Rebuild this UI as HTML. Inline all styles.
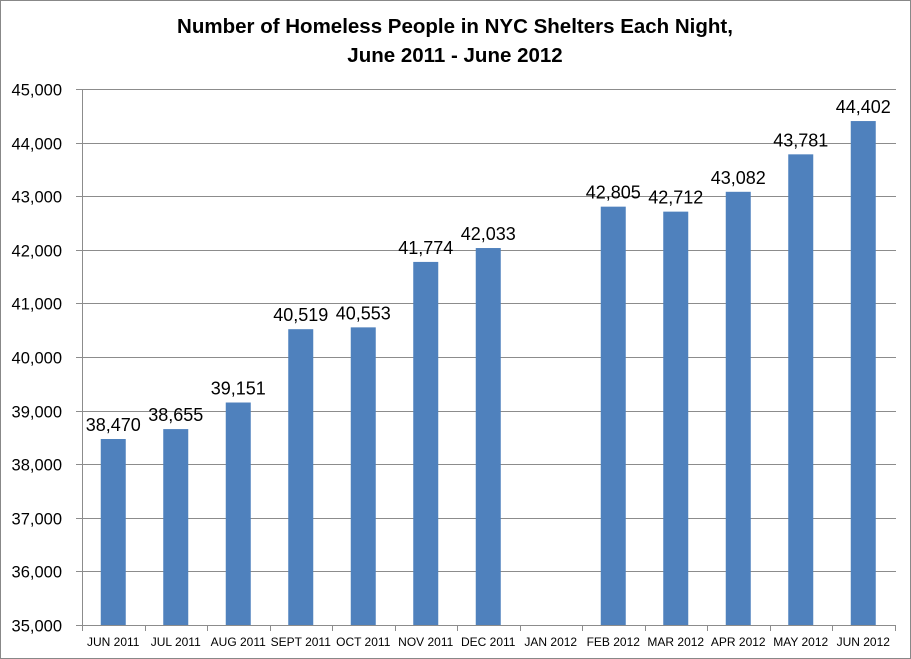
<!DOCTYPE html>
<html><head><style>
body{margin:0;background:#fff}
svg{display:block;font-family:"Liberation Sans",Calibri,sans-serif}
</style></head><body>
<svg width="911" height="659" viewBox="0 0 911 659" xmlns="http://www.w3.org/2000/svg">
<rect x="0.5" y="0.5" width="910" height="658" fill="#fff" stroke="#888"/>
<text x="455" y="33" text-anchor="middle" font-size="20.5" font-weight="bold">Number of Homeless People in NYC Shelters Each Night,</text>
<text x="455" y="62" text-anchor="middle" font-size="20.5" font-weight="bold">June 2011 - June 2012</text>
<g id="grid" stroke="#8c8c8c" stroke-width="1"></g>
<g id="bars"></g>
<g id="txt"></g>
</svg>
<script>
const ns="http://www.w3.org/2000/svg";
const g=document.getElementById('grid'),b=document.getElementById('bars'),t=document.getElementById('txt');
function el(p,n,a,s){const e=document.createElementNS(ns,n);for(const k in a)e.setAttribute(k,a[k]);if(s!==undefined)e.textContent=s;p.appendChild(e);return e;}
const x0=82,cw=62.5,y0=625,ppu=53.6/1000;
const Y=v=>y0-(v-35000)*ppu;
for(let i=0;i<=10;i++){const y=Math.round(Y(35000+i*1000))+0.5;
 el(g,'line',{x1:76,x2:896,y1:y,y2:y});
 el(t,'text',{x:62,y:y+6,'text-anchor':'end','font-size':16.5,fill:'#000'},(35+i)+',000');}
el(g,'line',{x1:x0+0.5,x2:x0+0.5,y1:89,y2:631});
for(let i=0;i<=13;i++){const x=Math.round(x0+i*cw)+0.5;el(g,'line',{x1:x,x2:x,y1:625,y2:631});}
const labs=['JUN 2011','JUL 2011','AUG 2011','SEPT 2011','OCT 2011','NOV 2011','DEC 2011','JAN 2012','FEB 2012','MAR 2012','APR 2012','MAY 2012','JUN 2012'];
const vals=[38470,38655,39151,40519,40553,41774,42033,null,42805,42712,43082,43781,44402];
labs.forEach((l,i)=>{const c=x0+i*cw+cw/2;
 el(t,'text',{x:c,y:646,'text-anchor':'middle','font-size':12},l);
 const v=vals[i];if(v==null)return;
 el(b,'rect',{x:c-12.5,y:Y(v),width:25,height:y0-Y(v),fill:'#4f81bd'});
 el(t,'text',{x:c,y:Y(v)-8,'text-anchor':'middle','font-size':18},v.toLocaleString('en-US'));
});
</script>
</body></html>
